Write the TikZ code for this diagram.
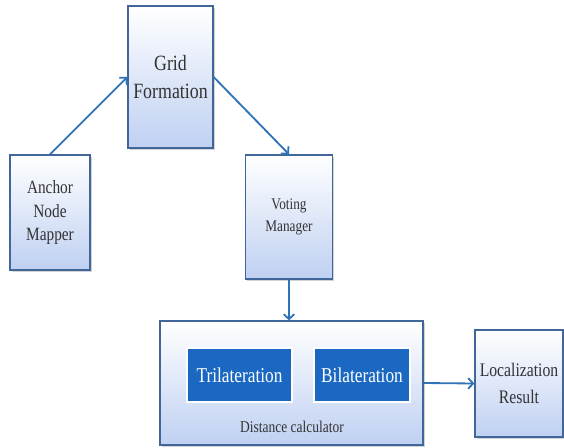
\documentclass[tikz,border=0pt]{standalone}
\usepackage{fontspec}
\setmainfont{Liberation Serif}[FakeStretch=0.82]
\usetikzlibrary{shadows, arrows.meta}

\definecolor{boxline}{HTML}{41669A}
\definecolor{boxfill}{HTML}{BFD0F2}
\definecolor{innerblue}{HTML}{1A68C2}
\definecolor{arrowblue}{HTML}{2F72B8}

\tikzset{
  block/.style={draw=boxline, line width=0.9pt, top color=white, bottom color=boxfill,
    drop shadow={opacity=0.35, shadow xshift=1.2pt, shadow yshift=-1.2pt},
    align=center, inner sep=2pt, text=black!80},
  method/.style={draw=white, line width=2pt, fill=innerblue, text=white,
    drop shadow={opacity=0.35, shadow xshift=1pt, shadow yshift=-1pt},
    font=\fontsize{15}{18}\selectfont},
  flow/.style={->, >={Straight Barb[length=3.5pt, width=7.5pt]}, draw=arrowblue, line width=1.3pt}
}

\begin{document}
\begin{tikzpicture}[x=0.025cm, y=-0.025cm]
    \useasboundingbox (0,0) rectangle (564,447);

    \node[block, minimum width=2cm, minimum height=2.875cm, font=\fontsize{13.3}{16.8}\selectfont] (anchor) at (50, 212.5) {Anchor\\Node\\Mapper};
    \node[block, minimum width=2.125cm, minimum height=3.55cm, font=\fontsize{15.5}{20.5}\selectfont] (grid) at (170.5, 77) {Grid\\Formation};
    \node[block, minimum width=2.175cm, minimum height=3.1cm, font=\fontsize{11.5}{16}\selectfont] (voting) at (289, 217) {Voting\\Manager};
    \node[block, minimum width=6.575cm, minimum height=3.1cm] (dist) at (291.5, 383) {};
    \node[block, minimum width=2.2cm, minimum height=2.675cm, font=\fontsize{13.6}{19.5}\selectfont] (result) at (519, 383.5) {Localization\\Result};

    % Verfahren im Abstandsrechner
    \node[method, minimum width=2.625cm, minimum height=1.35cm] (tri) at (239.5, 375) {Trilateration};
    \node[method, minimum width=2.4cm, minimum height=1.35cm] (bi) at (362, 375) {Bilateration};
    \node[font=\fontsize{11.7}{14}\selectfont, text=black!80] (distlabel) at (292, 427) {Distance calculator};

    % Pfeile
    \draw[flow] (anchor.north) -- (grid.west);
    \draw[flow] (grid.east) -- (voting.north);
    \draw[flow] (voting.south) -- (voting.south |- dist.north);
    \draw[flow] (dist.east) -- (result.west);
\end{tikzpicture}
\end{document}
